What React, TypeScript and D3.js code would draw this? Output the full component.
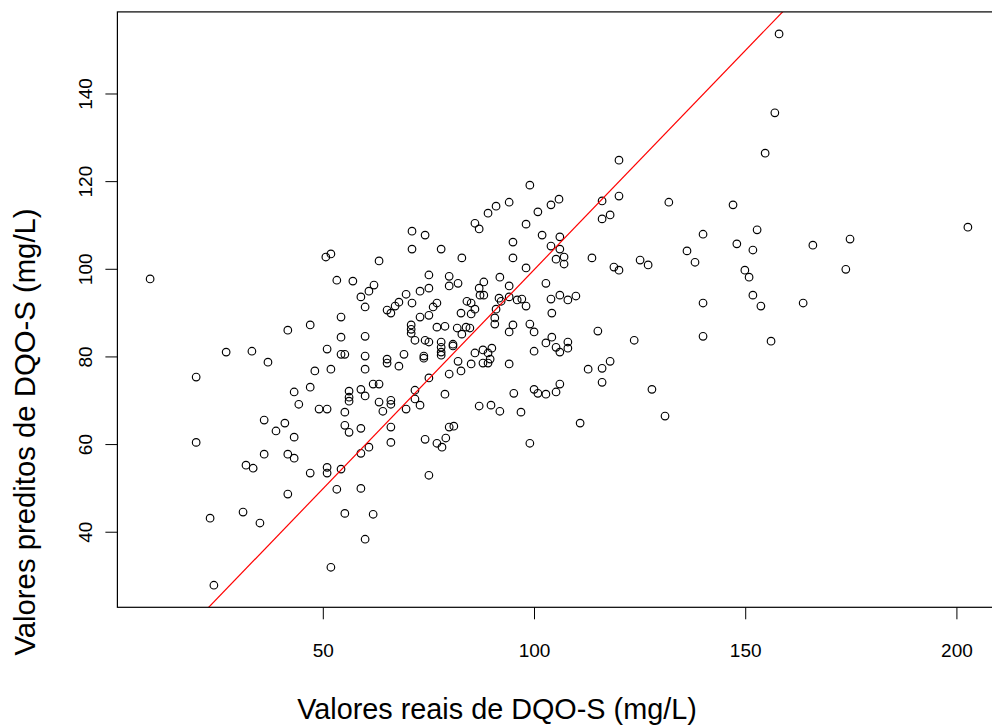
import React from "react";
import * as d3 from "d3";

// Observed (real) vs model-predicted soluble COD, mg/L
const dqoReal: number[] = [
  9.0, 27.0, 33.1, 36.9, 19.9, 36.0, 40.9, 38.8, 19.9, 36.0, 41.6, 31.7, 33.4, 41.6, 31.0, 23.2, 35.0, 24.1, 41.6,
  50.6, 51.8, 63.2, 53.2, 57.0, 62.0, 60.8, 58.9, 59.9, 65.1, 66.0, 67.0, 67.9, 69.6, 54.2, 46.9, 54.2, 59.9, 50.9,
  54.2, 55.1, 59.9, 65.1, 65.1, 67.9, 69.1, 48.0, 51.8, 59.9, 46.9, 43.1, 44.2, 56.1, 56.1, 56.1, 58.9, 59.9, 61.8,
  63.2, 63.2, 66.0, 66.0, 64.1, 49.0, 50.9, 55.1, 69.6, 43.1, 55.1, 56.1, 58.9, 66.0, 66.0, 60.8, 58.9, 43.1, 50.9,
  50.9, 46.9, 54.2, 53.2, 58.9, 55.1, 61.8, 59.9, 51.8,
  94.0, 90.9, 89.0, 85.9, 86.9, 71.0, 74.1, 94.9, 71.0, 77.9, 82.8, 94.9, 75.0, 79.8, 91.8, 79.8, 81.9, 75.0, 88.0,
  86.9, 87.1, 88.0, 94.0, 72.9, 71.0, 76.9, 76.0, 84.0, 85.0, 85.9, 91.6, 92.1, 94.0, 95.9, 90.9, 82.6, 85.0, 75.0,
  72.9, 90.6, 90.6, 70.8, 70.8, 70.8, 76.9, 78.8, 81.7, 83.8, 84.7, 82.8, 94.9, 94.0, 71.7, 74.1, 75.0, 77.9, 77.9,
  77.9, 77.9, 80.7, 80.7, 85.9, 87.8, 89.9, 73.8, 73.8, 89.0, 89.5, 89.0, 87.8, 81.9, 85.0, 82.6, 94.0, 79.8, 75.0,
  71.7, 71.7, 72.9, 78.8, 86.9, 89.7, 91.8, 95.1, 96.8, 79.8, 80.9, 79.0, 76.9, 78.1, 74.1, 75.0,
  120.0, 98.9, 105.8, 103.9, 100.8, 116.0, 120.0, 98.0, 116.0, 117.9, 101.8, 106.0, 103.9, 106.0, 105.1, 107.0,
  107.0, 113.6, 98.0, 118.8, 120.0, 102.7, 97.0, 98.0, 103.9, 106.0, 107.9, 109.8, 104.1, 98.9, 99.9, 115.0, 123.6,
  104.1, 102.7, 105.1, 106.0, 107.9, 107.9, 99.9, 112.7, 116.0, 117.9, 116.0, 99.9, 100.8, 102.7, 105.1, 106.0,
  110.8, 98.9,
  157.9, 156.9, 154.6, 131.8, 147.0, 139.9, 152.7, 136.1, 138.0, 147.9, 151.7, 149.8, 150.8, 125.0, 126.9, 151.7,
  139.9, 153.6, 163.6, 139.9, 156.0, 127.8, 130.9, 202.6, 165.9, 174.7, 173.7,
];

const dqoPredito: number[] = [
  97.8, 81.1, 81.3, 78.8, 75.4, 65.6, 64.9, 63.1, 60.5, 57.8, 57.8, 55.3, 54.6, 48.7, 44.6, 43.2, 42.1, 27.9, 86.1,
  102.8, 103.5, 101.9, 97.5, 97.3, 96.4, 95.0, 93.7, 91.4, 90.7, 90.0, 91.6, 92.5, 94.3, 89.1, 87.3, 84.5, 84.7, 81.8,
  80.6, 80.6, 80.2, 79.5, 78.6, 77.9, 80.6, 76.8, 77.2, 77.2, 73.1, 72.0, 69.2, 72.2, 70.8, 69.9, 72.6, 71.1, 73.8,
  73.8, 69.7, 70.1, 69.2, 67.6, 68.1, 68.1, 67.4, 68.1, 61.7, 64.4, 62.8, 63.7, 64.0, 60.5, 59.4, 58.0, 56.9, 54.8,
  53.5, 53.5, 54.4, 49.8, 50.0, 44.3, 44.1, 38.4, 32.0,
  115.3, 114.4, 112.8, 110.5, 109.2, 108.7, 107.8, 106.2, 104.6, 104.6, 102.6, 102.6, 98.7, 98.4, 98.2, 96.2, 96.8,
  95.7, 97.1, 95.7, 94.1, 94.1, 96.2, 95.0, 92.3, 92.3, 91.4, 92.7, 92.3, 90.9, 93.4, 92.7, 93.7, 93.0, 90.9, 90.0,
  89.8, 89.5, 89.1, 88.9, 87.5, 87.3, 86.3, 85.4, 86.8, 87.0, 86.6, 86.8, 86.6, 85.2, 87.3, 85.7, 83.8, 83.8, 83.4,
  83.4, 82.2, 81.1, 80.4, 82.9, 82.5, 80.9, 81.6, 82.0, 80.2, 79.7, 80.9, 79.5, 78.6, 78.6, 79.0, 78.4, 76.8, 78.4,
  76.1, 75.2, 72.4, 70.4, 69.0, 71.5, 68.8, 69.0, 67.6, 71.7, 67.4, 64.0, 64.2, 61.5, 60.3, 59.4, 61.2, 53.0,
  124.9, 119.2, 116.0, 114.7, 113.1, 115.6, 116.7, 110.3, 111.5, 112.4, 107.8, 107.4, 105.3, 104.6, 102.3, 102.8,
  101.2, 102.6, 100.3, 100.5, 99.8, 96.8, 93.2, 91.6, 93.2, 94.1, 93.0, 93.9, 90.0, 87.5, 85.7, 85.9, 83.8, 84.5,
  83.2, 82.2, 81.1, 83.4, 82.0, 81.3, 77.2, 77.4, 79.0, 74.2, 72.6, 71.7, 71.5, 72.0, 73.8, 64.9, 60.3,
  153.7, 135.7, 126.5, 115.3, 114.7, 108.0, 109.0, 104.2, 101.6, 105.8, 104.4, 99.8, 98.2, 102.1, 101.0, 94.1,
  92.3, 91.6, 92.3, 84.7, 83.6, 72.6, 66.5, 109.6, 105.5, 106.9, 100.0,
];

const xTicks = [50, 100, 150, 200];
const yTicks = [40, 60, 80, 100, 120, 140];
const xTitle = "Valores reais de DQO-S (mg/L)";
const yTitle = "Valores preditos de DQO-S (mg/L)";

const W = 992;
const H = 727;
const plot = { left: 117.4, right: 1000.6, top: 11.9, bottom: 607.3 };
const FONT = "'Liberation Sans', Arial, Helvetica, sans-serif";

// R-style axis range: data extent padded by 4% on both sides
function padded(vals: number[]): [number, number] {
  const [lo, hi] = d3.extent(vals) as [number, number];
  const pad = (hi - lo) * 0.04;
  return [lo - pad, hi + pad];
}

export default function App() {
  const xDom = padded(dqoReal);
  const yDom = padded(dqoPredito);
  const x = d3.scaleLinear().domain(xDom).range([plot.left, plot.right]);
  const y = d3.scaleLinear().domain(yDom).range([plot.bottom, plot.top]);

  const points = dqoReal.map((v, i) => [v, dqoPredito[i]] as [number, number]);

  // identity line y = x across the whole x range
  const lo = Math.min(xDom[0], yDom[0]);
  const hi = Math.max(xDom[1], yDom[1]);
  const identity = d3
    .line<number>()
    .x((d) => x(d))
    .y((d) => y(d))([lo, hi]);

  return (
    <svg
      width={W}
      height={H}
      style={{ position: "absolute", left: 0, top: 0, background: "#fff" }}
      fontFamily={FONT}
    >
      <defs>
        <clipPath id="plot-clip">
          <rect x={plot.left} y={plot.top} width={plot.right - plot.left} height={plot.bottom - plot.top} />
        </clipPath>
      </defs>
      <rect x={0} y={0} width={W} height={H} fill="#fff" />

      <g fill="none" stroke="#000" strokeWidth={1.15}>
        {points.map((p, i) => (
          <circle key={i} cx={x(p[0])} cy={y(p[1])} r={3.8} />
        ))}
      </g>

      <path d={identity ?? ""} fill="none" stroke="#ff0000" strokeWidth={1.2} clipPath="url(#plot-clip)" />

      <rect
        x={plot.left}
        y={plot.top}
        width={plot.right - plot.left}
        height={plot.bottom - plot.top}
        fill="none"
        stroke="#000"
        strokeWidth={1.2}
      />

      {/* x axis */}
      <g>
        {xTicks.map((t) => (
          <g key={t} transform={`translate(${x(t)},0)`}>
            <line y1={plot.bottom} y2={plot.bottom + 12} stroke="#000" strokeWidth={1} />
            <text y={657} textAnchor="middle" fontSize={19} fill="#000">
              {t}
            </text>
          </g>
        ))}
      </g>

      {/* y axis */}
      <g>
        {yTicks.map((t) => (
          <g key={t} transform={`translate(0,${y(t)})`}>
            <line x1={plot.left} x2={plot.left - 12} stroke="#000" strokeWidth={1} />
            <text transform={`translate(92,0) rotate(-90)`} textAnchor="middle" fontSize={19} fill="#000">
              {t}
            </text>
          </g>
        ))}
      </g>

      <text x={497} y={719} textAnchor="middle" fontSize={28.8} fill="#000">
        {xTitle}
      </text>
      <text transform={`translate(35,432) rotate(-90)`} textAnchor="middle" fontSize={29.3} fill="#000">
        {yTitle}
      </text>
    </svg>
  );
}
